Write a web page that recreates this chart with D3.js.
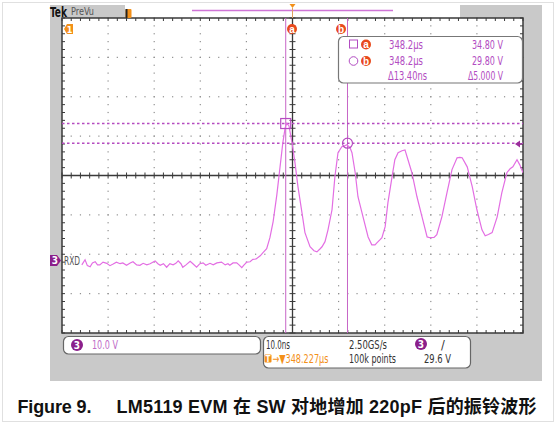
<!DOCTYPE html>
<html><head><meta charset="utf-8">
<script src="https://cdnjs.cloudflare.com/ajax/libs/d3/7.8.5/d3.min.js"></script>
<style>
html,body{margin:0;padding:0;background:#fff;}
svg{display:block;}
</style></head>
<body>
<svg id="c" width="558" height="425"></svg>
<script>
// ---- data ----
const timeNs = [-45.7,-45.0,-44.5,-43.9,-43.4,-42.8,-42.3,-41.8,-41.1,-40.3,-39.6,-38.9,-38.2,-37.4,-36.8,-36.0,-35.2,-34.6,-33.8,-33.1,-32.4,-31.6,-30.9,-29.8,-29.2,-28.7,-28.0,-27.3,-26.6,-25.9,-25.3,-24.8,-24.2,-23.8,-23.1,-22.2,-21.6,-20.8,-20.1,-19.4,-18.8,-17.9,-17.2,-16.4,-15.4,-14.6,-14.0,-13.6,-12.9,-12.1,-11.6,-11.0,-10.5,-9.9,-9.2,-8.6,-7.9,-7.0,-6.4,-5.6,-4.9,-4.2,-3.4,-2.7,-2.1,-1.6,-1.26,
 -0.76,-0.1,0.54,1.19,2.06,2.7,3.8,4.66,5.3,6.0,6.4,7.05,7.7,8.57,9.2,9.87,10.7,11.2,11.8,12.5,12.9,13.6,14.2,15.3,16.4,17.2,17.9,18.3,19.0,19.4,20.1,20.7,21.6,22.2,22.9,23.75,24.4,25.05,25.9,27.0,28.1,29.2,29.8,30.7,31.3,32.4,33.5,34.6,35.7,36.3,36.8,37.9,39.0,40.0,41.1,41.8,42.5,43.3,44.4,45.4,46.5,47.2,47.8,48.7,49.3,50.0];
const volts = [-1.1,0.2,-1.3,-1.6,-0.6,-0.3,-1.1,-1.1,-0.4,-0.7,-1.3,-0.9,-0.4,-0.8,-0.6,-1.2,-0.6,-0.3,-1.1,-1.2,-0.7,-1.1,-0.8,-0.1,-0.8,-1.2,-0.8,-1.7,-0.8,-1.1,-0.7,-0.1,-0.8,-1.7,-1.1,-0.2,-0.8,-1.7,-0.8,-0.6,-1.2,-0.7,-1.1,-0.6,-0.4,-1.1,-0.8,-1.2,-0.6,-0.6,-1.1,-1.8,-1.1,-0.4,-0.3,0.3,0.4,1.2,2.0,3.0,5.8,9.9,16.7,23.8,29.9,33.7,34.9,
 34.2,29.9,24.8,18.7,12.1,7.1,3.5,2.5,2.2,3.0,3.5,4.8,7.8,12.9,21.3,27.4,28.9,29.1,29.4,28.6,27.4,22.3,16.2,11.1,6.0,4.0,4.0,4.5,5.3,5.8,8.6,14.7,21.3,25.6,27.4,27.9,28.1,25.6,22.3,16.2,11.1,6.0,5.8,5.9,6.6,11.1,17.2,23.1,26.1,26.2,26.1,23.8,18.7,12.9,7.8,6.3,6.6,7.1,11.1,17.2,22.3,23.3,23.8,25.6,24.3,22.3];
const cursorNames = ["a","b"];
const cursorTimes = [-1.47, 11.93];      // ns relative to screen centre
const cursorVolts = [34.80, 29.80];      // V
const readoutTimes = ["348.2\u00b5s","348.2\u00b5s"];
const readoutVolts = ["34.80 V","29.80 V"];
const readoutDelta = ["\u039413.40ns","\u03945.000 V"];
const statusCh = ["10.0 V"];
const statusTime = ["10.0ns","2.50GS/s","/"];
const statusRow2 = ["\u2192\u25bc348.227\u00b5s","100k points","29.6 V"];
const triggerLevel = [29.6];
const caption = ["Figure 9.","LM5119 EVM 在 SW 对地增加 220pF 后的振铃波形"];

// ---- layout ----
const svg = d3.select("#c");
const L=62, R=523, T=18, B=333;
const x = d3.scaleLinear().domain([-50,50]).range([L,R]);
const y = d3.scaleLinear().domain([-18.4,61.6]).range([B,T]);
const GRAY="#c9c9c9", AX="#3a3a3a", TR="#e36ee3", MAG="#b24cc2", ORG="#f39019", RED="#e8491d", PUR="#8b1f8b";
const narrow = "'Liberation Sans Narrow','DejaVu Sans Condensed',sans-serif";
function fit(sel, w){ return sel.attr("textLength",w).attr("lengthAdjust","spacingAndGlyphs"); }

// outer faint frame
svg.append("rect").attr("x",2.5).attr("y",2.5).attr("width",551).attr("height",419).attr("fill","none").attr("stroke","#e0e0e0");
// gray bezel
svg.append("rect").attr("x",50).attr("y",5).attr("width",12).attr("height",376).attr("fill",GRAY);
svg.append("rect").attr("x",50).attr("y",5).attr("width",75).attr("height",13).attr("fill",GRAY);
svg.append("rect").attr("x",460).attr("y",5).attr("width",82).attr("height",13).attr("fill",GRAY);
svg.append("rect").attr("x",R).attr("y",5).attr("width",19).attr("height",376).attr("fill",GRAY);
svg.append("rect").attr("x",50).attr("y",B).attr("width",492).attr("height",48).attr("fill",GRAY);
svg.append("rect").attr("x",L).attr("y",T).attr("width",R-L).attr("height",B-T).attr("fill","#fff");

// grid dots
const tDiv = d3.range(-50,51,10), vDiv = d3.range(-18.4,61.7,10);
const tMinor = d3.range(-50,50.01,2), vMinor = d3.range(-18.4,61.61,2);
const g = svg.append("g");
tDiv.slice(1,-1).forEach(t=>{ if(t===0) return;
  vMinor.forEach(v=>g.append("rect").attr("x",x(t)-0.6).attr("y",y(v)-0.6).attr("width",1.2).attr("height",1.2).attr("fill","#8f8f8f"));});
vDiv.slice(1,-1).forEach((v,i)=>{ if(i===3) return;
  tMinor.forEach(t=>g.append("rect").attr("x",x(t)-0.6).attr("y",y(v)-0.6).attr("width",1.2).attr("height",1.2).attr("fill","#8f8f8f"));});
// centre axes
const yc = y(21.6), xc = x(0);
g.append("line").attr("x1",L).attr("x2",R).attr("y1",yc).attr("y2",yc).attr("stroke",AX).attr("stroke-width",1.3);
g.append("line").attr("x1",xc).attr("x2",xc).attr("y1",T).attr("y2",B).attr("stroke",AX).attr("stroke-width",1.3);
tMinor.forEach(t=>{
  g.append("line").attr("x1",x(t)).attr("x2",x(t)).attr("y1",yc-3).attr("y2",yc+3).attr("stroke",AX);
  g.append("line").attr("x1",x(t)).attr("x2",x(t)).attr("y1",T).attr("y2",T+3).attr("stroke",AX);
  g.append("line").attr("x1",x(t)).attr("x2",x(t)).attr("y1",B).attr("y2",B-3).attr("stroke",AX);
});
vMinor.forEach(v=>{
  g.append("line").attr("y1",y(v)).attr("y2",y(v)).attr("x1",xc-3).attr("x2",xc+3).attr("stroke",AX);
  g.append("line").attr("y1",y(v)).attr("y2",y(v)).attr("x1",L).attr("x2",L+3).attr("stroke",AX);
  g.append("line").attr("y1",y(v)).attr("y2",y(v)).attr("x1",R).attr("x2",R-3).attr("stroke",AX);
});
svg.append("rect").attr("x",L).attr("y",T).attr("width",R-L).attr("height",B-T).attr("fill","none").attr("stroke",AX).attr("stroke-width",1.5);

// clip
svg.append("clipPath").attr("id","pc").append("rect").attr("x",L).attr("y",T).attr("width",R-L).attr("height",B-T);
const pg = svg.append("g").attr("clip-path","url(#pc)");

// cursor lines
cursorTimes.forEach(t=>pg.append("line").attr("x1",x(t)).attr("x2",x(t)).attr("y1",T).attr("y2",B).attr("stroke","#c766c7").attr("stroke-width",1));
cursorVolts.forEach(v=>pg.append("line").attr("x1",L).attr("x2",R).attr("y1",y(v)).attr("y2",y(v)).attr("stroke","#b54bc0").attr("stroke-width",1.4).attr("stroke-dasharray","2.5,2.5"));

// trace
const pts = timeNs.map((t,i)=>[t,volts[i]]);
pg.append("path").datum(pts).attr("fill","none").attr("stroke",TR).attr("stroke-width",1.2)
  .attr("d",d3.line().x(d=>x(d[0])).y(d=>y(d[1])));

// cursor markers
pg.append("rect").attr("x",x(cursorTimes[0])-5).attr("y",y(cursorVolts[0])-5).attr("width",10).attr("height",10).attr("fill","none").attr("stroke","#b54bc0").attr("stroke-width",1.2);
pg.append("circle").attr("cx",x(cursorTimes[1])).attr("cy",y(cursorVolts[1])).attr("r",5).attr("fill","none").attr("stroke","#b54bc0").attr("stroke-width",1.2);

// trigger level arrow on right
const ty = y(triggerLevel[0]);
svg.append("path").attr("d",`M${R-8},${ty} L${R-3},${ty-3.5} L${R-3},${ty+3.5} Z`).attr("fill","#9b2d9b");
svg.append("line").attr("x1",R-4).attr("x2",R-1).attr("y1",ty).attr("y2",ty).attr("stroke","#9b2d9b").attr("stroke-width",1.5);

// cursor label circles a/b at top
const labX=[292,341];
cursorNames.forEach((n,i)=>{
  svg.append("circle").attr("cx",labX[i]).attr("cy",29).attr("r",5).attr("fill",RED);
  svg.append("text").attr("x",labX[i]).attr("y",32.5).attr("text-anchor","middle").attr("font-family","Liberation Sans, sans-serif").attr("font-weight","bold").attr("font-size",10).attr("fill","#fff").text(n);
});

// top bar
fit(svg.append("text").attr("x",50).attr("y",16.5).attr("font-family",narrow).attr("font-weight","bold").attr("font-size",14).attr("fill","#111").text("Tek"),17);
fit(svg.append("text").attr("x",71).attr("y",15).attr("font-family",narrow).attr("font-size",11).attr("fill","#555").text("PreVu"),23);
svg.append("rect").attr("x",125.5).attr("y",9).attr("width",6).attr("height",9).attr("rx",1).attr("fill",ORG);
svg.append("rect").attr("x",125.5).attr("y",9).attr("width",2).attr("height",9).attr("fill","#222");
svg.append("line").attr("x1",192).attr("x2",393).attr("y1",10.5).attr("y2",10.5).attr("stroke","#cf75d6").attr("stroke-width",1.6);
svg.append("path").attr("d",`M${xc-3},4 L${xc+3},4 L${xc},8 Z`).attr("fill",ORG);
svg.append("line").attr("x1",xc).attr("x2",xc).attr("y1",8).attr("y2",18).attr("stroke","#e0a060").attr("stroke-width",1);

// left markers
svg.append("path").attr("d","M73,24 L67,24 L64,29 L67,34 L73,34 Z").attr("fill",ORG);
svg.append("text").attr("x",69.5).attr("y",32.5).attr("text-anchor","middle").attr("font-family",narrow).attr("font-weight","bold").attr("font-size",9).attr("fill","#fff").text("1");
const gy = y(0);
svg.append("path").attr("d",`M50,${gy-5.5} L57,${gy-5.5} L61,${gy} L57,${gy+5.5} L50,${gy+5.5} Z`).attr("fill",PUR);
svg.append("text").attr("x",55).attr("y",gy+3.5).attr("text-anchor","middle").attr("font-family",narrow).attr("font-weight","bold").attr("font-size",10).attr("fill","#fff").text("3");
fit(svg.append("text").attr("x",64).attr("y",gy+4).attr("font-family",narrow).attr("font-size",12).attr("fill","#555").text("RXD"),16);

// readout box
svg.append("rect").attr("x",338.5).attr("y",36.5).attr("width",184).attr("height",46.5).attr("rx",5).attr("fill","#fff").attr("stroke","#777").attr("stroke-width",1.2);
svg.append("rect").attr("x",349.5).attr("y",40).attr("width",8).attr("height",8).attr("fill","none").attr("stroke",MAG).attr("stroke-width",1);
svg.append("circle").attr("cx",353.5).attr("cy",61).attr("r",4.3).attr("fill","none").attr("stroke",MAG).attr("stroke-width",1);
cursorNames.forEach((n,i)=>{
  const cy=[44.5,61][i];
  svg.append("circle").attr("cx",366).attr("cy",cy).attr("r",5).attr("fill",RED);
  svg.append("text").attr("x",366).attr("y",cy+3.5).attr("text-anchor","middle").attr("font-family","Liberation Sans, sans-serif").attr("font-weight","bold").attr("font-size",10).attr("fill","#fff").text(n);
});
const rd = svg.append("g").attr("font-family",narrow).attr("font-size",12.5).attr("fill",MAG);
[48.5,65].forEach((by,i)=>{
  fit(rd.append("text").attr("x",389).attr("y",by).text(readoutTimes[i]),34);
  fit(rd.append("text").attr("x",472).attr("y",by).text(readoutVolts[i]),31);
});
fit(rd.append("text").attr("x",388).attr("y",80).text(readoutDelta[0]),39);
fit(rd.append("text").attr("x",468).attr("y",80).text(readoutDelta[1]),35);

// status bar
svg.append("rect").attr("x",63.5).attr("y",336.5).attr("width",197).attr("height",17.5).attr("rx",5).attr("fill","#fff").attr("stroke","#666").attr("stroke-width",1.2);
svg.append("rect").attr("x",263.5).attr("y",336.5).attr("width",207).attr("height",31.5).attr("rx",5).attr("fill","#fff").attr("stroke","#666").attr("stroke-width",1.2);
[[77,345],[421,344]].forEach(p=>{
  svg.append("circle").attr("cx",p[0]).attr("cy",p[1]).attr("r",6).attr("fill",PUR);
  svg.append("text").attr("x",p[0]).attr("y",p[1]+3.5).attr("text-anchor","middle").attr("font-family",narrow).attr("font-weight","bold").attr("font-size",10).attr("fill","#fff").text("3");
});
const st = svg.append("g").attr("font-family",narrow).attr("font-size",12.5);
fit(st.append("text").attr("x",92).attr("y",349).attr("fill","#c06cc8").text(statusCh[0]),26);
fit(st.append("text").attr("x",266).attr("y",349).attr("fill","#333").text(statusTime[0]),24);
fit(st.append("text").attr("x",349).attr("y",349).attr("fill","#333").text(statusTime[1]),38);
st.append("text").attr("x",441).attr("y",349).attr("fill","#333").text(statusTime[2]);
svg.append("rect").attr("x",264.5).attr("y",354.5).attr("width",7).attr("height",8).attr("rx",1).attr("fill",ORG);
svg.append("text").attr("x",268).attr("y",361.5).attr("text-anchor","middle").attr("font-family",narrow).attr("font-weight","bold").attr("font-size",8).attr("fill","#fff").text("T");
fit(st.append("text").attr("x",272.5).attr("y",363).attr("fill",ORG).text(statusRow2[0]),56);
fit(st.append("text").attr("x",349).attr("y",363).attr("fill","#333").text(statusRow2[1]),47);
fit(st.append("text").attr("x",424).attr("y",363).attr("fill","#333").text(statusRow2[2]),27);

// caption
const cap = svg.append("g").attr("font-weight","bold").attr("font-size",18).attr("fill","#111");
fit(cap.append("text").attr("x",17.5).attr("y",413).attr("font-family","'Liberation Sans',Arial,sans-serif").text(caption[0]),74).attr("lengthAdjust","spacing");
fit(cap.append("text").attr("x",116.5).attr("y",413).attr("font-family","'Liberation Sans','Noto Sans CJK SC',sans-serif").text(caption[1]),420).attr("lengthAdjust","spacing");
</script>
</body></html>
